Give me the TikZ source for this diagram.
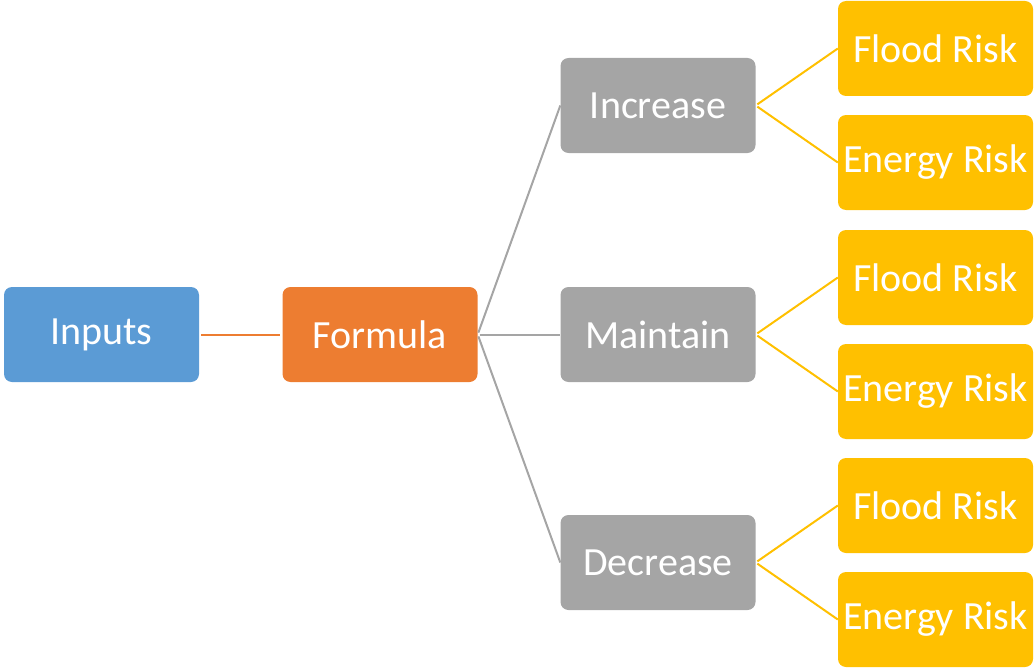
\documentclass[tikz,border=0pt]{standalone}
\usepackage{fontspec}
\setmainfont{Carlito}
\definecolor{inblue}{HTML}{5B9BD5}
\definecolor{fmorange}{HTML}{ED7D31}
\definecolor{optgray}{HTML}{A5A5A5}
\definecolor{riskyellow}{HTML}{FFC000}

\begin{document}
\begin{tikzpicture}[x=1pt, y=-1pt,
    box/.style={rounded corners=8pt, minimum width=195pt, minimum height=95pt,
        inner sep=0pt, text=white, font=\fontsize{40}{48}\selectfont},
    link/.style={line width=2pt, shorten <=2pt}]
        \useasboundingbox (0,0) rectangle (1034,669);
        % root and formula
        \node[box, fill=inblue] (inputs) at (101.5,334.5) {Inputs};
        \node[box, fill=fmorange] (formula) at (380,334.5) {Formula};
        % the three options
        \node[box, fill=optgray] (increase) at (658,105.5) {Increase};
        \node[box, fill=optgray] (maintain) at (658,334.5) {Maintain};
        \node[box, fill=optgray] (decrease) at (658,562.5) {Decrease};
        % risks for each option
        \node[box, fill=riskyellow] (flood1) at (935.5,48.5) {Flood Risk};
        \node[box, fill=riskyellow] (energy1) at (935.5,162.5) {Energy Risk};
        \node[box, fill=riskyellow] (flood2) at (935.5,277.5) {Flood Risk};
        \node[box, fill=riskyellow] (energy2) at (935.5,391.5) {Energy Risk};
        \node[box, fill=riskyellow] (flood3) at (935.5,505.5) {Flood Risk};
        \node[box, fill=riskyellow] (energy3) at (935.5,619.5) {Energy Risk};
        % connectors
        \draw[link, fmorange, shorten >=2pt] (inputs.east) -- (formula.west);
        \draw[link, optgray] (formula.east) -- (increase.west);
        \draw[link, optgray] (formula.east) -- (maintain.west);
        \draw[link, optgray] (formula.east) -- (decrease.west);
        \draw[link, riskyellow] (increase.east) -- (flood1.west);
        \draw[link, riskyellow] (increase.east) -- (energy1.west);
        \draw[link, riskyellow] (maintain.east) -- (flood2.west);
        \draw[link, riskyellow] (maintain.east) -- (energy2.west);
        \draw[link, riskyellow] (decrease.east) -- (flood3.west);
        \draw[link, riskyellow] (decrease.east) -- (energy3.west);
    \end{tikzpicture}
\end{document}
